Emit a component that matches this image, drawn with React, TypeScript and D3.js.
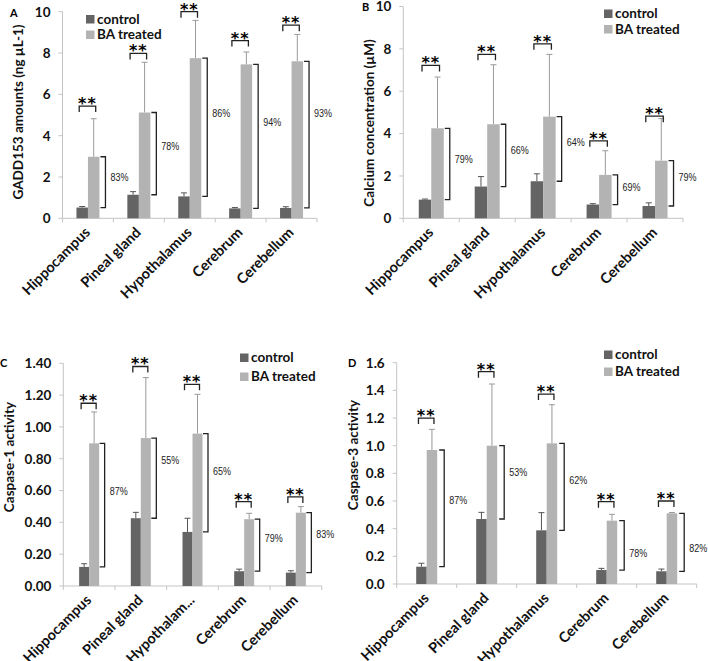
import React from "react";
import * as d3 from "d3";

// ---------- DATA ----------
const categories = ["Hippocampus", "Pineal gland", "Hypothalamus", "Cerebrum", "Cerebellum"];
const categoriesC = ["Hippocampus", "Pineal gland", "Hypothalam...", "Cerebrum", "Cerebellum"];
const seriesNames = ["control", "BA treated"];

// Panel A: GADD153
const gaddControl = [0.52, 1.14, 1.06, 0.48, 0.5];
const gaddControlErr = [0.05, 0.15, 0.17, 0.04, 0.06];
const gaddTreated = [2.98, 5.12, 7.75, 7.45, 7.6];
const gaddTreatedErr = [1.84, 2.43, 1.83, 0.6, 1.3];
const gaddSig = [5.43, 7.98, 10.0, 8.6, 9.35];
const gaddPct = ["83%", "78%", "86%", "94%", "93%"];
const gaddPctAt = [2.0, 3.5, 5.1, 4.65, 5.1];

// Panel B: Calcium
const calControl = [0.88, 1.5, 1.75, 0.65, 0.58];
const calControlErr = [0.03, 0.47, 0.35, 0.04, 0.15];
const calTreated = [4.25, 4.44, 4.8, 2.05, 2.72];
const calTreatedErr = [2.42, 2.81, 2.94, 1.14, 1.99];
const calSig = [7.22, 7.74, 8.24, 3.66, 4.82];
const calPct = ["79%", "66%", "64%", "69%", "79%"];
const calPctAt = [2.8, 3.22, 3.6, 1.49, 1.96];

// Panel C: Caspase-1
const c1Control = [0.12, 0.426, 0.34, 0.093, 0.084];
const c1ControlErr = [0.02, 0.037, 0.086, 0.013, 0.012];
const c1Treated = [0.897, 0.93, 0.958, 0.42, 0.461];
const c1TreatedErr = [0.197, 0.38, 0.247, 0.037, 0.038];
const c1Sig = [1.149, 1.38, 1.268, 0.53, 0.56];
const c1Pct = ["87%", "55%", "65%", "79%", "83%"];
const c1PctAt = [0.6, 0.79, 0.72, 0.3, 0.33];

// Panel D: Caspase-3
const c3Control = [0.125, 0.47, 0.388, 0.101, 0.092];
const c3ControlErr = [0.025, 0.048, 0.128, 0.012, 0.016];
const c3Treated = [0.969, 1.0, 1.017, 0.458, 0.511];
const c3TreatedErr = [0.149, 0.446, 0.279, 0.046, 0.006];
const c3Sig = [1.2, 1.535, 1.373, 0.595, 0.6];
const c3Pct = ["87%", "53%", "62%", "78%", "82%"];
const c3PctAt = [0.61, 0.81, 0.75, 0.226, 0.258];

// ---------- STYLE ----------
const CONTROL_COLOR = "#646464";
const TREATED_COLOR = "#b3b3b3";
const AXIS_COLOR = "#c4c4c4";
const FONT = "Lato, 'Liberation Sans', sans-serif";

type PanelCfg = {
  letter: string;
  letterPos: [number, number];
  x0: number; x1: number; yTop: number; yBot: number;
  yMax: number; yStep: number; fmt: string;
  bw: number; gap: number;
  title: string; titlePos: [number, number];
  legend: [number, number]; legendSpacing: number;
  cats: string[];
  control: number[]; controlErr: number[];
  treated: number[]; treatedErr: number[];
  sig: number[]; pct: string[]; pctAt: number[];
};

const panels: PanelCfg[] = [
  {
    letter: "A", letterPos: [10, 17],
    x0: 62.5, x1: 317, yTop: 11.7, yBot: 218.3, yMax: 10, yStep: 2, fmt: "d",
    bw: 11.5, gap: 6,
    title: "GADD153 amounts (ng µL-1)", titlePos: [18, 112],
    legend: [86, 15], legendSpacing: 15.5,
    cats: categories,
    control: gaddControl, controlErr: gaddControlErr,
    treated: gaddTreated, treatedErr: gaddTreatedErr,
    sig: gaddSig, pct: gaddPct, pctAt: gaddPctAt,
  },
  {
    letter: "B", letterPos: [362, 10.5],
    x0: 403.3, x1: 683, yTop: 6.5, yBot: 218.3, yMax: 10, yStep: 2, fmt: "d",
    bw: 12.5, gap: 6,
    title: "Calcium concentration (µM)", titlePos: [369, 123],
    legend: [604, 9.5], legendSpacing: 15.5,
    cats: categories,
    control: calControl, controlErr: calControlErr,
    treated: calTreated, treatedErr: calTreatedErr,
    sig: calSig, pct: calPct, pctAt: calPctAt,
  },
  {
    letter: "C", letterPos: [0, 367],
    x0: 63.3, x1: 321.7, yTop: 363.3, yBot: 586, yMax: 1.4, yStep: 0.2, fmt: ".2f",
    bw: 10, gap: 5.5,
    title: "Caspase-1 activity", titlePos: [9, 457],
    legend: [240, 353.5], legendSpacing: 19,
    cats: categoriesC,
    control: c1Control, controlErr: c1ControlErr,
    treated: c1Treated, treatedErr: c1TreatedErr,
    sig: c1Sig, pct: c1Pct, pctAt: c1PctAt,
  },
  {
    letter: "D", letterPos: [348, 367],
    x0: 396.7, x1: 696.7, yTop: 362.7, yBot: 584, yMax: 1.6, yStep: 0.2, fmt: ".1f",
    bw: 10.5, gap: 7,
    title: "Caspase-3 activity", titlePos: [353, 455],
    legend: [604, 350.5], legendSpacing: 17,
    cats: categories,
    control: c3Control, controlErr: c3ControlErr,
    treated: c3Treated, treatedErr: c3TreatedErr,
    sig: c3Sig, pct: c3Pct, pctAt: c3PctAt,
  },
];

function Panel({ p }: { p: PanelCfg }) {
  const x = d3.scaleBand<string>().domain(p.cats).range([p.x0, p.x1]).padding(0);
  const y = d3.scaleLinear().domain([0, p.yMax]).range([p.yBot, p.yTop]);
  const ticks = d3.range(0, p.yMax + p.yStep / 2, p.yStep);
  const fmt = d3.format(p.fmt);
  const bounds = [...p.cats.map((c) => x(c) as number), p.x1];
  const capW = 3;

  return (
    <g>
      <text x={p.letterPos[0]} y={p.letterPos[1]} fontFamily={FONT} fontWeight="bold" fontSize={11} fill="#000">
        {p.letter}
      </text>
      <line x1={p.x0} x2={p.x0} y1={p.yBot} y2={p.yTop} stroke={AXIS_COLOR} strokeWidth={1} />
      {ticks.map((t) => (
        <g key={t}>
          <line x1={p.x0 - 4} x2={p.x0} y1={y(t)} y2={y(t)} stroke={AXIS_COLOR} />
          <text x={p.x0 - 12} y={y(t)} dy="0.36em" textAnchor="end" fontFamily={FONT}
            fontWeight="bold" fontSize={13.5} fill="#111">
            {fmt(t)}
          </text>
        </g>
      ))}
      <text transform={`translate(${p.titlePos[0]},${p.titlePos[1]}) rotate(-90)`} dy="0.35em"
        textAnchor="middle" fontFamily={FONT} fontWeight="bold" fontSize={13.5} fill="#111">
        {p.title}
      </text>
      <line x1={p.x0} x2={p.x1} y1={p.yBot} y2={p.yBot} stroke={AXIS_COLOR} strokeWidth={1} />
      {bounds.map((b, i) => (
        <line key={i} x1={b} x2={b} y1={p.yBot} y2={p.yBot + 4} stroke={AXIS_COLOR} />
      ))}
      {p.cats.map((c, i) => {
        const cx = (x(c) as number) + x.bandwidth() / 2;
        const xc = cx - p.bw;
        const xt = cx;
        const ctop = y(p.control[i]);
        const ttop = y(p.treated[i]);
        const cErr = y(p.control[i] + p.controlErr[i]);
        const tErr = y(p.treated[i] + p.treatedErr[i]);
        const sy = y(p.sig[i]);
        const sl = xc + p.bw / 2 - 3;
        const sr = xt + p.bw / 2 + 2;
        const bx = xt + p.bw + p.gap;
        return (
          <g key={c}>
            <line x1={xc + p.bw / 2} x2={xc + p.bw / 2} y1={ctop} y2={cErr} stroke="#555" strokeWidth={1} />
            <line x1={xc + p.bw / 2 - capW} x2={xc + p.bw / 2 + capW} y1={cErr} y2={cErr} stroke="#555" strokeWidth={1} />
            <line x1={xt + p.bw / 2} x2={xt + p.bw / 2} y1={ttop} y2={tErr} stroke="#9a9a9a" strokeWidth={1} />
            <line x1={xt + p.bw / 2 - capW} x2={xt + p.bw / 2 + capW} y1={tErr} y2={tErr} stroke="#9a9a9a" strokeWidth={1} />
            <rect x={xc} y={ctop} width={p.bw} height={p.yBot - ctop} fill={CONTROL_COLOR} />
            <rect x={xt} y={ttop} width={p.bw} height={p.yBot - ttop} fill={TREATED_COLOR} />
            <path d={`M${sl},${sy + 6}V${sy}H${sr}V${sy + 6}`} fill="none" stroke="#222" strokeWidth={1.3} />
            <text x={(sl + sr) / 2} y={sy + 3} textAnchor="middle" fontFamily="'DejaVu Sans', sans-serif"
              fontWeight="bold" fontSize={16} fill="#000" letterSpacing={1}>
              **
            </text>
            <path d={`M${bx - 5},${ttop}H${bx}V${ctop}H${bx - 5}`} fill="none" stroke="#222" strokeWidth={1.3} />
            <text x={bx + 5} y={y(p.pctAt[i])} dy="0.35em" fontFamily="'Liberation Sans', Arial, sans-serif"
              fontSize={11.5} textLength={18} lengthAdjust="spacingAndGlyphs" fill="#222">
              {p.pct[i]}
            </text>
            <text transform={`translate(${cx + 3},${p.yBot + 15}) rotate(-45)`} textAnchor="end"
              fontFamily={FONT} fontWeight="bold" fontSize={14.5} fill="#111">
              {c}
            </text>
          </g>
        );
      })}
      {seriesNames.map((s, i) => (
        <g key={s}>
          <rect x={p.legend[0]} y={p.legend[1] + i * p.legendSpacing} width={8.5} height={8.5}
            fill={i === 0 ? CONTROL_COLOR : TREATED_COLOR} />
          <text x={p.legend[0] + 11} y={p.legend[1] + 8.5 + i * p.legendSpacing} fontFamily={FONT}
            fontWeight="bold" fontSize={13.5} fill="#111">
            {s}
          </text>
        </g>
      ))}
    </g>
  );
}

export default function App() {
  return (
    <svg width={708} height={661} style={{ position: "absolute", left: 0, top: 0, background: "#fff" }}>
      <rect width={708} height={661} fill="#fff" />
      {panels.map((p) => (
        <Panel key={p.letter} p={p} />
      ))}
    </svg>
  );
}
